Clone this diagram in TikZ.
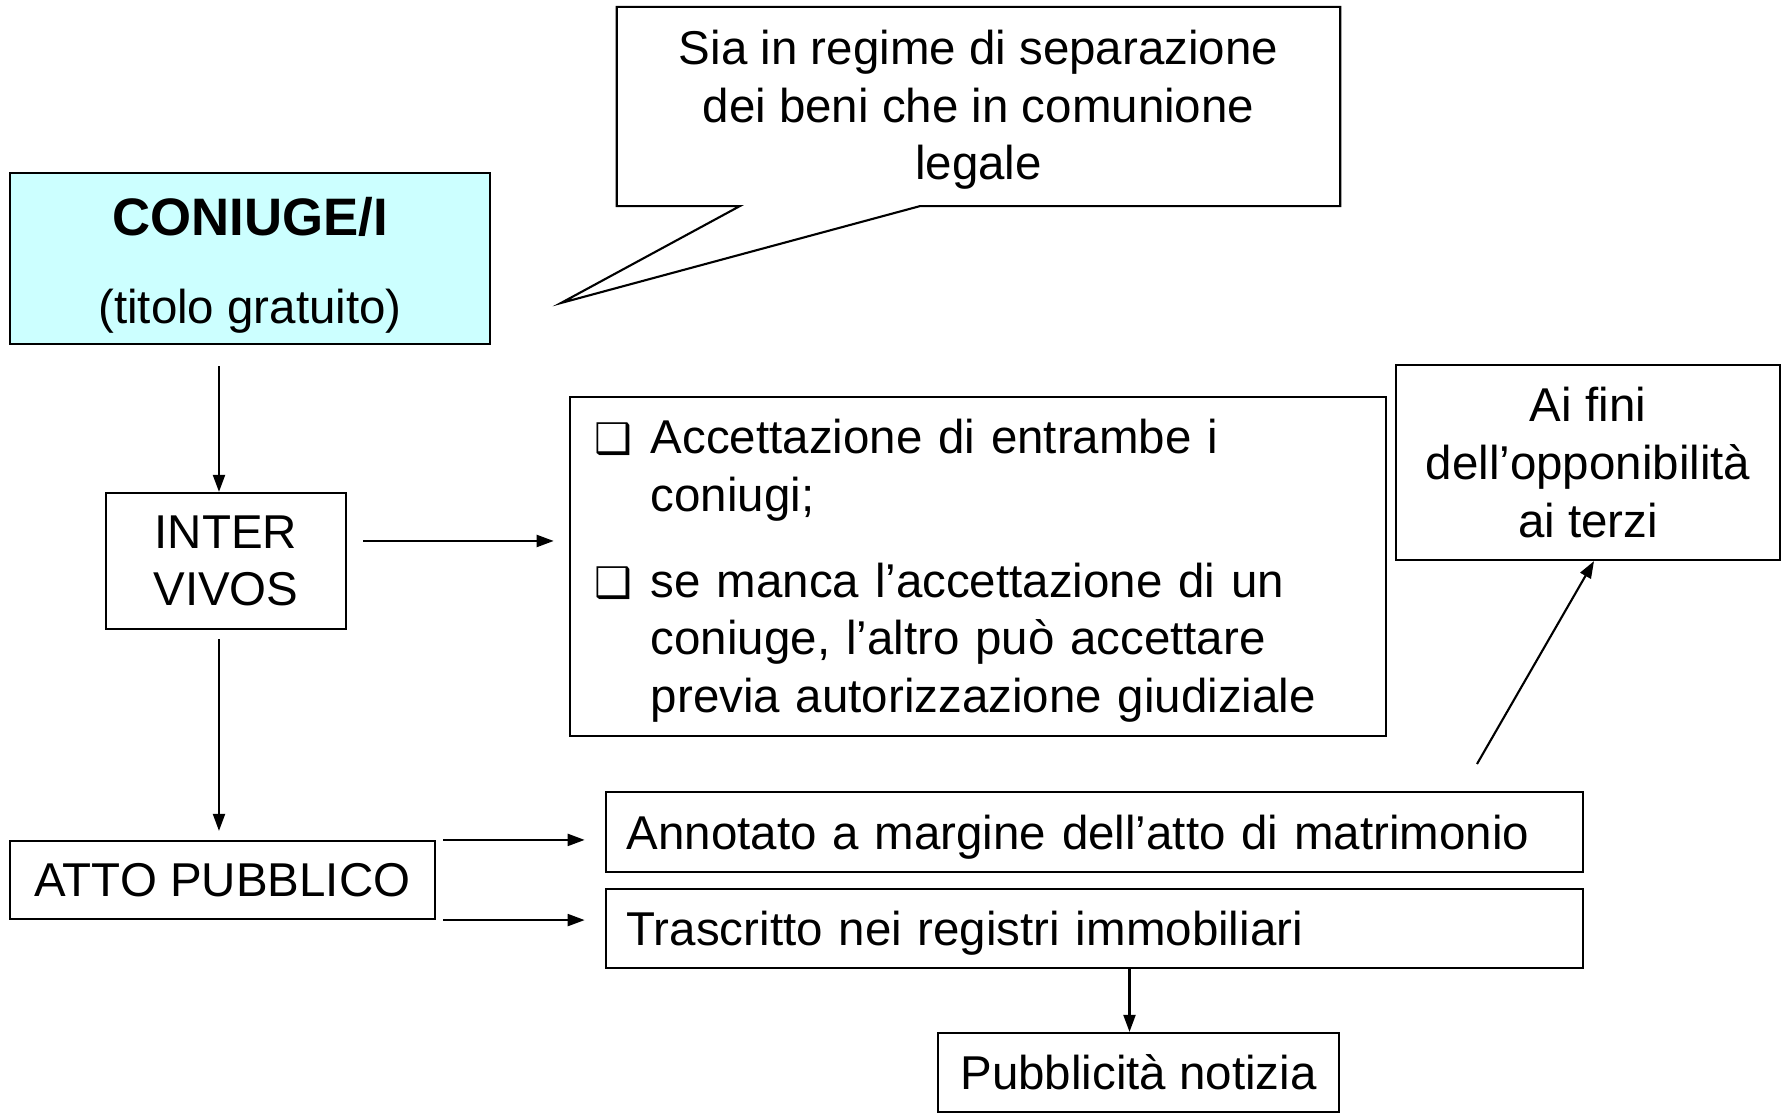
\documentclass[tikz,border=0pt]{standalone}
\usepackage{fontspec}
\setmainfont{Liberation Sans}
\newfontfamily\dejavu{DejaVu Sans}
\usetikzlibrary{arrows.meta}
\definecolor{lightcyan}{HTML}{CCFFFF}

\newcommand{\sqbul}{\makebox[0.56cm][l]{\dejavu\fontsize{12}{14}\selectfont ❑}}

\begin{document}
\begin{tikzpicture}[x=0.01cm,y=-0.01cm,line width=0.6pt,
    >={Triangle[length=0.17cm,width=0.12cm]},
    box/.style={shape=rectangle,draw=black,inner sep=0pt,align=center,
      font=\fontsize{13.5}{16.4}\selectfont},
    arr/.style={->}]
\useasboundingbox (0,0) rectangle (1787,1113);

% boxes
\node[box,fill=lightcyan,minimum width=4.8cm,minimum height=1.71cm] (coniuge) at (250,258.5)
  {{\fontsize{15}{18}\selectfont\bfseries\rule{0pt}{0.52cm}CONIUGE/I}\\[0.3cm](titolo gratuito)};
\node[box,draw=none,minimum width=7.21cm,minimum height=1.97cm] (callout) at (978.5,106.5)
  {\rule{0pt}{0.41cm}Sia in regime di separazione\\dei beni che in comunione\\legale};
\node[box,minimum width=2.4cm,minimum height=1.36cm] (inter) at (226,561) {INTER\\VIVOS};
\node[box,align=left,text width=7.66cm,inner xsep=0.25cm,minimum height=3.39cm] (acc) at (978,566.5)
  {\raisebox{-0.05cm}[\height][\depth]{\begin{tabular}{@{}l@{}l@{}}
   \sqbul & Accettazione di entrambe i\\
          & coniugi;\\[8pt]
   \sqbul & se manca l’accettazione di un\\
          & coniuge, l’altro può accettare\\
          & previa autorizzazione giudiziale
   \end{tabular}}};
\node[box,minimum width=3.84cm,minimum height=1.95cm] (aifini) at (1588,462.5)
  {Ai fini\\dell’opponibilità\\ai terzi};
\node[box,minimum width=4.25cm,minimum height=0.78cm] (atto) at (222.5,880) {ATTO PUBBLICO};
\node[box,align=left,text width=9.35cm,inner xsep=0.21cm,minimum height=0.8cm,text depth=0pt] (annot) at (1094.5,832)
  {Annotato a margine dell’atto di matrimonio};
\node[box,align=left,text width=9.35cm,inner xsep=0.21cm,minimum height=0.79cm,text depth=0pt] (trasc) at (1094.5,928.5)
  {Trascritto nei registri immobiliari};
\node[box,minimum width=4.01cm,minimum height=0.79cm] (pubbl) at (1138.5,1072.5) {Pubblicità notizia};

% callout outline
\coordinate (tip) at (561,303);
\draw (callout.north west) -- (callout.north east) -- (callout.south east)
  -- ([xshift=-4.2cm]callout.south east) -- (tip) -- ([xshift=1.23cm]callout.south west)
  -- (callout.south west) -- cycle;

% arrows
\path [arr,shorten <=0.21cm] ([xshift=-0.07cm]inter.north |- coniuge.south) edge ([xshift=-0.07cm]inter.north);
\path [arr,shorten <=0.16cm,shorten >=0.15cm] ([yshift=0.2cm]inter.east) edge ([yshift=0.2cm]inter.east -| acc.west);
\path [arr,shorten <=0.09cm,shorten >=0.09cm] ([xshift=-0.07cm]inter.south) edge ([xshift=-0.07cm]inter.south |- atto.north);
\path [arr,shorten <=0.07cm,shorten >=0.2cm] (atto.north east) edge (atto.north east -| annot.west);
\path [arr,shorten <=0.07cm,shorten >=0.2cm] (atto.south east) edge (atto.south east -| trasc.west);
\path [arr] ([xshift=-0.09cm]pubbl.north |- trasc.south) edge ([xshift=-0.09cm]pubbl.north);
\coordinate (start) at (1477,764);
\path [arr] (start) edge ([xshift=0.06cm]aifini.south);
\end{tikzpicture}
\end{document}
